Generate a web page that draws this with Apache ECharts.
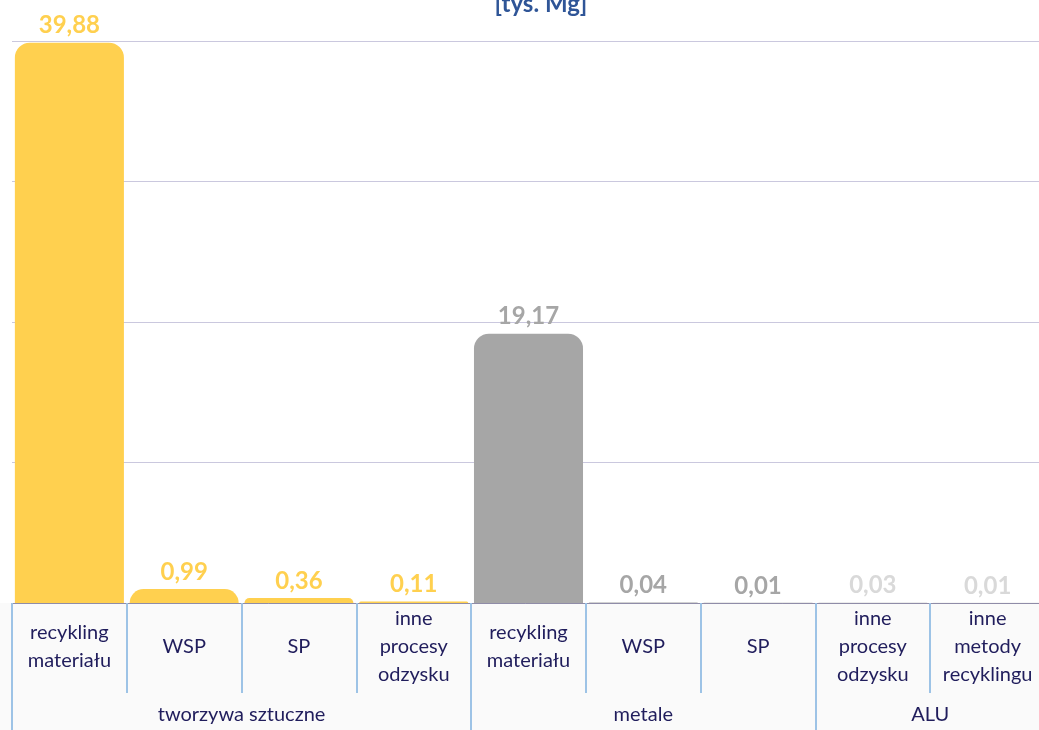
<!DOCTYPE html>
<html>
<head>
<meta charset="utf-8">
<script src="https://cdn.jsdelivr.net/npm/echarts@6/dist/echarts.min.js"></script>
<style>
  html, body { margin: 0; padding: 0; background: #fff; }
  #chart { width: 1039px; height: 730px; }
</style>
</head>
<body>
<div id="chart"></div>
<script>
// dane [tys. Mg]
const categories = [
  'recykling\nmateriału', 'WSP', 'SP', 'inne\nprocesy\nodzysku',
  'recykling\nmateriału', 'WSP', 'SP',
  'inne\nprocesy\nodzysku', 'inne\nmetody\nrecyklingu'
]
const values = [39.88, 0.99, 0.36, 0.11, 19.17, 0.04, 0.01, 0.03, 0.01]
const groups = ['tworzywa sztuczne', 'metale', 'ALU']
const groupSizes = [4, 3, 2]
const groupColors = ['#FFD04F', '#A6A6A6', '#D9D9D9']

// granice i środki grup na osi 0..9
const groupEdges = [0]
groupSizes.forEach(n => groupEdges.push(groupEdges[groupEdges.length - 1] + n))
const groupCenters = groupSizes.map((n, i) => groupEdges[i] + n / 2)

const itemColors = []
groupSizes.forEach((n, g) => { for (let k = 0; k < n; k++) itemColors.push(groupColors[g]) })

const fmt = v => v.toFixed(2).replace('.', ',')

const myChart = echarts.init(document.getElementById('chart'))

const option = {
  backgroundColor: '#fff',
  animation: false,
  textStyle: { fontFamily: 'Lato, "Open Sans", sans-serif' },
  title: {
    text: '[tys. Mg]',
    left: 536,
    top: -13,
    textAlign: 'center',
    textStyle: { color: '#2F5597', fontSize: 24, fontWeight: 'bold' }
  },
  graphic: [{
    type: 'rect',
    left: 0,
    bottom: 0,
    shape: { width: 1039, height: 127 },
    style: { fill: '#FAFAFA' },
    z: -10
  }],
  grid: { left: 12, width: 1033, top: 41, bottom: 127, outerBoundsMode: 'none' },
  xAxis: [{
    type: 'category',
    data: categories,
    position: 'bottom',
    axisLine: { show: true, lineStyle: { color: '#8F8CA8', width: 1 } },
    axisTick: { show: true, length: 90, lineStyle: { color: '#9DC3E6', width: 2 } },
    axisLabel: {
      interval: 0,
      margin: 44,
      verticalAlign: 'middle',
      color: '#201D5C',
      fontSize: 20,
      lineHeight: 28
    },
    z: 5
  }, {
    type: 'value',
    min: 0,
    max: 9,
    position: 'bottom',
    axisLine: { show: false },
    splitLine: { show: false },
    axisTick: {
      show: true,
      length: 127,
      customValues: groupEdges,
      lineStyle: { color: '#9DC3E6', width: 2 }
    },
    axisLabel: {
      margin: 112,
      verticalAlign: 'middle',
      customValues: groupCenters,
      formatter: v => groups[groupCenters.indexOf(v)] || '',
      color: '#201D5C',
      fontSize: 20
    }
  }],
  yAxis: {
    type: 'value',
    min: 0,
    max: 40,
    interval: 10,
    axisLabel: { show: false },
    axisLine: { show: false },
    axisTick: { show: false },
    splitLine: { lineStyle: { color: '#CAC8DE', width: 1 } }
  },
  series: [{
    type: 'bar',
    data: values.map((v, i) => ({
      value: v,
      itemStyle: { color: itemColors[i] },
      label: { color: itemColors[i] }
    })),
    barWidth: '95%',
    itemStyle: { borderRadius: [15, 15, 0, 0] },
    label: {
      show: true,
      position: 'top',
      distance: 5,
      fontSize: 24,
      fontWeight: 'bold',
      formatter: p => fmt(p.value)
    }
  }]
}

myChart.setOption(option)
window.addEventListener('resize', () => myChart.resize())
</script>
</body>
</html>
